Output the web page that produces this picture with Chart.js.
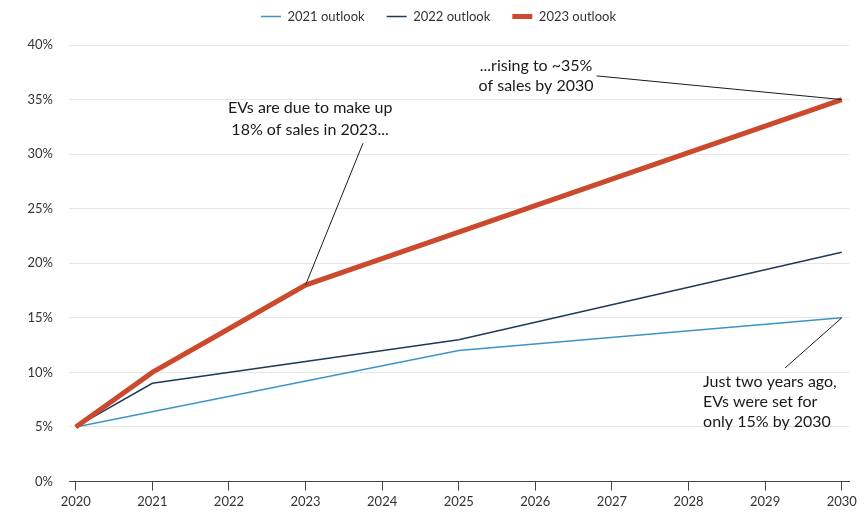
<!DOCTYPE html>
<html>
<head>
<meta charset="utf-8">
<script src="https://cdn.jsdelivr.net/npm/chart.js@4"></script>
<style>
  html, body { margin: 0; padding: 0; background: #ffffff; }
  #wrap { width: 864px; height: 513px; }
</style>
</head>
<body>
<div id="wrap"><canvas id="chart" width="864" height="513"></canvas></div>
<script>
// EV share of new car sales, by outlook vintage (percent)
const seriesNames = ['2021 outlook', '2022 outlook', '2023 outlook'];
const years2021 = [2020, 2025, 2030];
const outlook2021 = [5, 12, 15];
const years2022 = [2020, 2021, 2025, 2030];
const outlook2022 = [5, 9, 13, 21];
const years2023 = [2020, 2021, 2022, 2023, 2030];
const outlook2023 = [5, 10, 14, 18, 35];
const xTickYears = [2020, 2021, 2022, 2023, 2024, 2025, 2026, 2027, 2028, 2029, 2030];
const yTickValues = [0, 5, 10, 15, 20, 25, 30, 35, 40];

const toPoints = (xs, ys) => xs.map((x, i) => ({ x: x, y: ys[i] }));

// Callout notes: text anchored in data units, leader line ends on a series point
const notes = [
  {
    lines: ['EVs are due to make up', '18% of sales in 2023...'],
    x: 2023.06, y: 34.23, align: 'center', lineGap: 22,
    from: [2023.75, 31.0], to: [years2023[3], outlook2023[3]]
  },
  {
    lines: ['...rising to ~35%', 'of sales by 2030'],
    x: 2026.01, y: 38.08, align: 'center', lineGap: 20,
    from: [2026.8, 37.17], to: [years2023[4], outlook2023[4]]
  },
  {
    lines: ['Just two years ago,', 'EVs were set for', 'only 15% by 2030'],
    x: 2028.19, y: 9.14, align: 'left', lineGap: 20,
    from: [2029.26, 10.4], to: [years2021[2], outlook2021[2]]
  }
];

const calloutPlugin = {
  id: 'callouts',
  afterDatasetsDraw(chart) {
    const { ctx, scales: { x, y } } = chart;
    ctx.save();
    ctx.strokeStyle = '#1a1a1a';
    ctx.lineWidth = 1;
    ctx.fillStyle = '#1a1a1a';
    ctx.font = '16px Lato';
    ctx.textBaseline = 'middle';
    notes.forEach(n => {
      ctx.beginPath();
      ctx.moveTo(x.getPixelForValue(n.from[0]), y.getPixelForValue(n.from[1]));
      ctx.lineTo(x.getPixelForValue(n.to[0]), y.getPixelForValue(n.to[1]));
      ctx.stroke();
      ctx.textAlign = n.align;
      const px = x.getPixelForValue(n.x);
      const py = y.getPixelForValue(n.y);
      n.lines.forEach((t, i) => ctx.fillText(t, px, py + i * n.lineGap));
    });
    ctx.restore();
  }
};

// Legend spacing: extra room below the legend row, and a small shift right
const legendSpacing = {
  id: 'legendSpacing',
  beforeLayout(chart) {
    const lg = chart.legend;
    if (!lg || lg._spaced) return;
    lg._spaced = true;
    const fit = lg.fit.bind(lg);
    lg.fit = function () { fit(); this.height += 12; };
    const draw = lg.draw.bind(lg);
    lg.draw = function () {
      const c = this.ctx;
      c.save();
      c.translate(14, 0);
      draw();
      c.restore();
    };
  }
};

Chart.defaults.font.family = 'Lato, "Open Sans", sans-serif';
Chart.defaults.color = '#333333';

new Chart(document.getElementById('chart'), {
  type: 'line',
  data: {
    datasets: [
      {
        label: seriesNames[0],
        data: toPoints(years2021, outlook2021),
        borderColor: '#3f93c8',
        backgroundColor: '#3f93c8',
        borderWidth: 1.5,
        order: 2
      },
      {
        label: seriesNames[1],
        data: toPoints(years2022, outlook2022),
        borderColor: '#1c3b5a',
        backgroundColor: '#1c3b5a',
        borderWidth: 1.5,
        order: 1
      },
      {
        label: seriesNames[2],
        data: toPoints(years2023, outlook2023),
        borderColor: '#cb4a2d',
        backgroundColor: '#cb4a2d',
        borderWidth: 5,
        order: 0
      }
    ]
  },
  options: {
    responsive: false,
    animation: false,
    events: [],
    layout: { padding: { top: -12, right: 15, bottom: 0, left: 0 } },
    elements: {
      point: { radius: 0, hoverRadius: 0 },
      line: { tension: 0, fill: false }
    },
    plugins: {
      tooltip: { enabled: false },
      legend: {
        position: 'top',
        align: 'center',
        labels: {
          usePointStyle: true,
          pointStyle: 'line',
          pointStyleWidth: 20,
          padding: 22,
          font: { size: 13 },
          color: '#333333',
          sort: (a, b) => a.datasetIndex - b.datasetIndex
        }
      }
    },
    scales: {
      x: {
        type: 'linear',
        min: 2019.912,
        max: 2030.095,
        afterBuildTicks: s => { s.ticks = xTickYears.map(v => ({ value: v })); },
        afterFit: s => { s.height = 31.5; },
        ticks: {
          includeBounds: false,
          stepSize: 1,
          padding: 4,
          font: { size: 13 },
          color: '#333333',
          callback: v => String(v),
          maxRotation: 0,
          autoSkip: false
        },
        grid: {
          drawOnChartArea: false,
          drawTicks: true,
          tickLength: 9,
          color: '#444444',
          tickWidth: 1
        },
        border: { display: true, color: '#444444', width: 1 }
      },
      y: {
        min: 0,
        max: 40,
        afterBuildTicks: s => { s.ticks = yTickValues.map(v => ({ value: v })); },
        afterFit: s => { s.width = 69; },
        ticks: {
          padding: 16,
          font: { size: 13 },
          color: '#333333',
          callback: v => v + '%'
        },
        grid: {
          drawTicks: false,
          color: '#e6e6e6',
          lineWidth: 1
        },
        border: { display: false }
      }
    }
  },
  plugins: [legendSpacing, calloutPlugin]
});
</script>
</body>
</html>
